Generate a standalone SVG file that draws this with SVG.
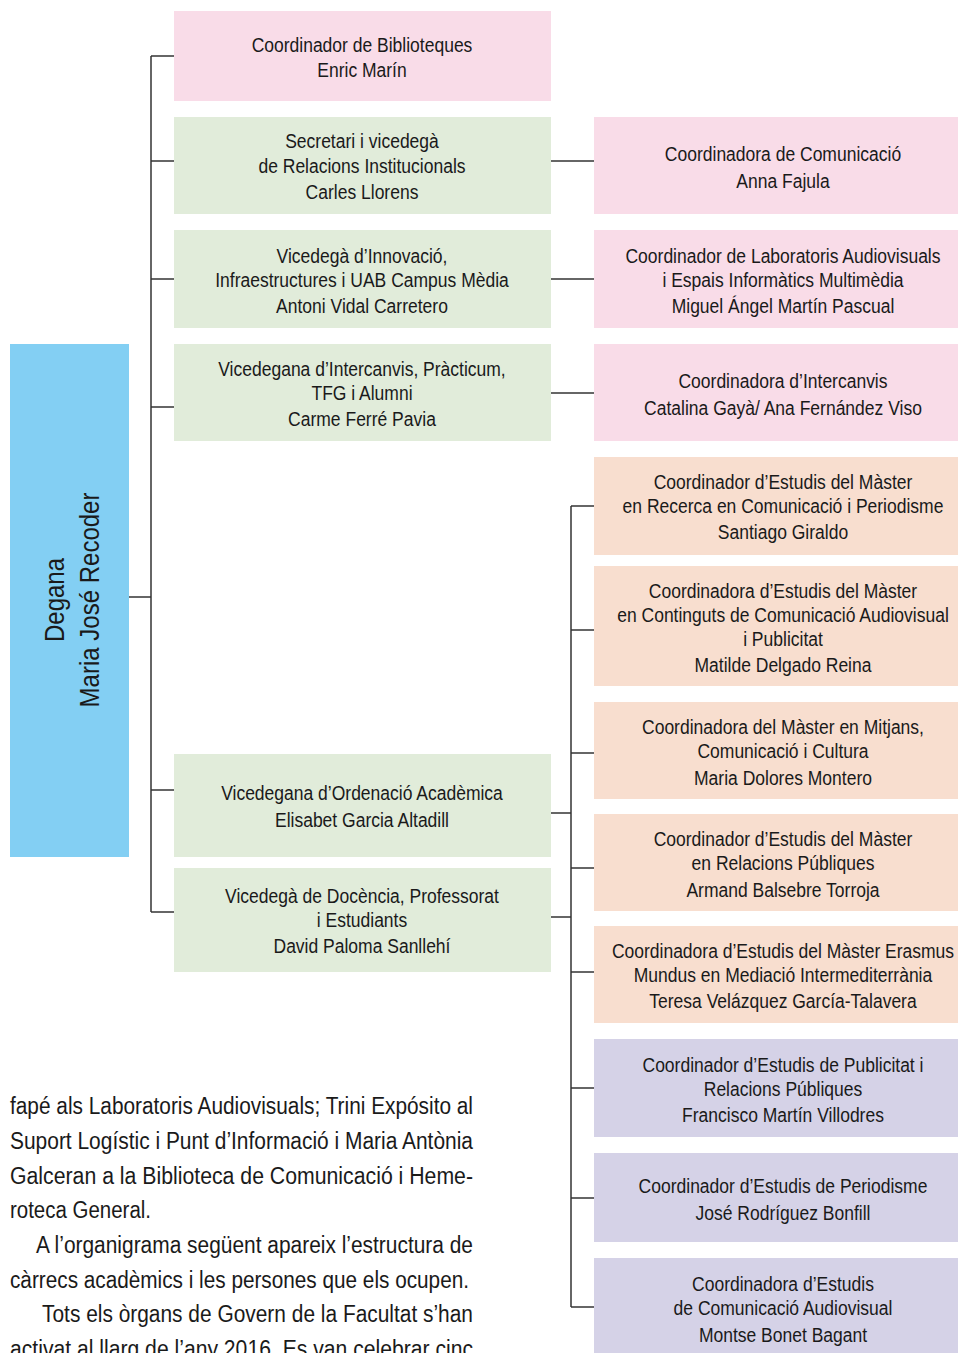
<svg xmlns="http://www.w3.org/2000/svg" width="958" height="1353" viewBox="0 0 958 1353">
<style>
text{font-family:"Liberation Sans",Arial,sans-serif;fill:#1a1a1a}
.t{font-size:20px;text-anchor:middle}
.b{font-size:23px}
.pink{fill:#F9DCE8}.green{fill:#E1ECDA}.blue{fill:#83CFF3}.salmon{fill:#F8DECF}.purple{fill:#D5D2E7}
.c line{stroke:#333;stroke-width:1.5;fill:none}
</style>
<rect width="958" height="1353" fill="#ffffff"/>
<g class="c" id="connectors">
<line x1="151" y1="56" x2="151" y2="912"/>
<line x1="129" y1="597" x2="151" y2="597"/>
<line x1="151" y1="56" x2="174" y2="56"/>
<line x1="151" y1="161" x2="174" y2="161"/>
<line x1="151" y1="279" x2="174" y2="279"/>
<line x1="151" y1="407" x2="174" y2="407"/>
<line x1="151" y1="790" x2="174" y2="790"/>
<line x1="151" y1="912" x2="174" y2="912"/>
<line x1="551" y1="161" x2="594" y2="161"/>
<line x1="551" y1="279" x2="594" y2="279"/>
<line x1="551" y1="393" x2="594" y2="393"/>
<line x1="571" y1="506" x2="571" y2="1307"/>
<line x1="571" y1="506" x2="594" y2="506"/>
<line x1="571" y1="630" x2="594" y2="630"/>
<line x1="571" y1="753" x2="594" y2="753"/>
<line x1="551" y1="813" x2="571" y2="813"/>
<line x1="571" y1="868" x2="594" y2="868"/>
<line x1="551" y1="917" x2="571" y2="917"/>
<line x1="571" y1="972" x2="594" y2="972"/>
<line x1="571" y1="1088" x2="594" y2="1088"/>
<line x1="571" y1="1198" x2="594" y2="1198"/>
<line x1="571" y1="1307" x2="594" y2="1307"/>
</g>
<g id="degana">
<rect class="blue" x="10" y="344" width="119" height="513"/>
<text transform="rotate(-90) matrix(0.89,0,0,1,-66,0)" style="font-size:27px;text-anchor:middle"><tspan x="-600" y="64">Degana</tspan><tspan x="-600" y="99">Maria José Recoder</tspan></text>
</g>
<g id="biblioteques">
<rect class="pink" x="174" y="11" width="377" height="90"/>
<text class="t" transform="matrix(0.875,0,0,1,45.25,0)"><tspan x="362" y="52">Coordinador de Biblioteques</tspan><tspan x="362" y="77">Enric Marín</tspan></text>
</g>
<g id="secretari">
<rect class="green" x="174" y="117" width="377" height="97"/>
<text class="t" transform="matrix(0.875,0,0,1,45.25,0)"><tspan x="362" y="148">Secretari i vicedegà</tspan><tspan x="362" y="173">de Relacions Institucionals</tspan><tspan x="362" y="199">Carles Llorens</tspan></text>
</g>
<g id="innovacio">
<rect class="green" x="174" y="230" width="377" height="98"/>
<text class="t" transform="matrix(0.875,0,0,1,45.25,0)"><tspan x="362" y="263">Vicedegà d’Innovació,</tspan><tspan x="362" y="287">Infraestructures i UAB Campus Mèdia</tspan><tspan x="362" y="313">Antoni Vidal Carretero</tspan></text>
</g>
<g id="intercanvis">
<rect class="green" x="174" y="344" width="377" height="97"/>
<text class="t" transform="matrix(0.875,0,0,1,45.25,0)"><tspan x="362" y="376">Vicedegana d’Intercanvis, Pràcticum,</tspan><tspan x="362" y="400">TFG i Alumni</tspan><tspan x="362" y="426">Carme Ferré Pavia</tspan></text>
</g>
<g id="ordenacio">
<rect class="green" x="174" y="754" width="377" height="103"/>
<text class="t" transform="matrix(0.875,0,0,1,45.25,0)"><tspan x="362" y="800">Vicedegana d’Ordenació Acadèmica</tspan><tspan x="362" y="827">Elisabet Garcia Altadill</tspan></text>
</g>
<g id="docencia">
<rect class="green" x="174" y="868" width="377" height="104"/>
<text class="t" transform="matrix(0.875,0,0,1,45.25,0)"><tspan x="362" y="903">Vicedegà de Docència, Professorat</tspan><tspan x="362" y="927">i Estudiants</tspan><tspan x="362" y="953">David Paloma Sanllehí</tspan></text>
</g>
<g id="comunicacio">
<rect class="pink" x="594" y="117" width="364" height="97"/>
<text class="t" transform="matrix(0.875,0,0,1,97.875,0)"><tspan x="783" y="161">Coordinadora de Comunicació</tspan><tspan x="783" y="188">Anna Fajula</tspan></text>
</g>
<g id="laboratoris">
<rect class="pink" x="594" y="230" width="364" height="98"/>
<text class="t" transform="matrix(0.875,0,0,1,97.875,0)"><tspan x="783" y="263">Coordinador de Laboratoris Audiovisuals</tspan><tspan x="783" y="287">i Espais Informàtics Multimèdia</tspan><tspan x="783" y="313">Miguel Ángel Martín Pascual</tspan></text>
</g>
<g id="coord-intercanvis">
<rect class="pink" x="594" y="344" width="364" height="97"/>
<text class="t" transform="matrix(0.875,0,0,1,97.875,0)"><tspan x="783" y="388">Coordinadora d’Intercanvis</tspan><tspan x="783" y="415">Catalina Gayà/ Ana Fernández Viso</tspan></text>
</g>
<g id="master-recerca">
<rect class="salmon" x="594" y="457" width="364" height="98"/>
<text class="t" transform="matrix(0.875,0,0,1,97.875,0)"><tspan x="783" y="489">Coordinador d’Estudis del Màster</tspan><tspan x="783" y="513">en Recerca en Comunicació i Periodisme</tspan><tspan x="783" y="539">Santiago Giraldo</tspan></text>
</g>
<g id="master-continguts">
<rect class="salmon" x="594" y="566" width="364" height="120"/>
<text class="t" transform="matrix(0.875,0,0,1,97.875,0)"><tspan x="783" y="598">Coordinadora d’Estudis del Màster</tspan><tspan x="783" y="622">en Continguts de Comunicació Audiovisual</tspan><tspan x="783" y="646">i Publicitat</tspan><tspan x="783" y="672">Matilde Delgado Reina</tspan></text>
</g>
<g id="master-mitjans">
<rect class="salmon" x="594" y="702" width="364" height="97"/>
<text class="t" transform="matrix(0.875,0,0,1,97.875,0)"><tspan x="783" y="734">Coordinadora del Màster en Mitjans,</tspan><tspan x="783" y="758">Comunicació i Cultura</tspan><tspan x="783" y="785">Maria Dolores Montero</tspan></text>
</g>
<g id="master-rp">
<rect class="salmon" x="594" y="814" width="364" height="97"/>
<text class="t" transform="matrix(0.875,0,0,1,97.875,0)"><tspan x="783" y="846">Coordinador d’Estudis del Màster</tspan><tspan x="783" y="870">en Relacions Públiques</tspan><tspan x="783" y="897">Armand Balsebre Torroja</tspan></text>
</g>
<g id="master-erasmus">
<rect class="salmon" x="594" y="926" width="364" height="97"/>
<text class="t" transform="matrix(0.875,0,0,1,97.875,0)"><tspan x="783" y="958">Coordinadora d’Estudis del Màster Erasmus</tspan><tspan x="783" y="982">Mundus en Mediació Intermediterrània</tspan><tspan x="783" y="1008">Teresa Velázquez García-Talavera</tspan></text>
</g>
<g id="publicitat">
<rect class="purple" x="594" y="1039" width="364" height="98"/>
<text class="t" transform="matrix(0.875,0,0,1,97.875,0)"><tspan x="783" y="1072">Coordinador d’Estudis de Publicitat i</tspan><tspan x="783" y="1096">Relacions Públiques</tspan><tspan x="783" y="1122">Francisco Martín Villodres</tspan></text>
</g>
<g id="periodisme">
<rect class="purple" x="594" y="1153" width="364" height="89"/>
<text class="t" transform="matrix(0.875,0,0,1,97.875,0)"><tspan x="783" y="1193">Coordinador d’Estudis de Periodisme</tspan><tspan x="783" y="1220">José Rodríguez Bonfill</tspan></text>
</g>
<g id="audiovisual">
<rect class="purple" x="594" y="1258" width="364" height="95"/>
<text class="t" transform="matrix(0.875,0,0,1,97.875,0)"><tspan x="783" y="1291">Coordinadora d’Estudis</tspan><tspan x="783" y="1315">de Comunicació Audiovisual</tspan><tspan x="783" y="1342">Montse Bonet Bagant</tspan></text>
</g>
<g id="body-text">
<text class="b" x="10" y="1114" textLength="463" lengthAdjust="spacingAndGlyphs">fapé als Laboratoris Audiovisuals; Trini Expósito al</text>
<text class="b" x="10" y="1149" textLength="463" lengthAdjust="spacingAndGlyphs">Suport Logístic i Punt d’Informació i Maria Antònia</text>
<text class="b" x="10" y="1184" textLength="463" lengthAdjust="spacingAndGlyphs">Galceran a la Biblioteca de Comunicació i Heme-</text>
<text class="b" x="10" y="1218" textLength="141" lengthAdjust="spacingAndGlyphs">roteca General.</text>
<text class="b" x="36" y="1253" textLength="437" lengthAdjust="spacingAndGlyphs">A l’organigrama següent apareix l’estructura de</text>
<text class="b" x="10" y="1288" textLength="459" lengthAdjust="spacingAndGlyphs">càrrecs acadèmics i les persones que els ocupen.</text>
<text class="b" x="42" y="1322" textLength="431" lengthAdjust="spacingAndGlyphs">Tots els òrgans de Govern de la Facultat s’han</text>
<text class="b" x="10" y="1357" textLength="463" lengthAdjust="spacingAndGlyphs">activat al llarg de l’any 2016. Es van celebrar cinc</text>
</g>
</svg>
